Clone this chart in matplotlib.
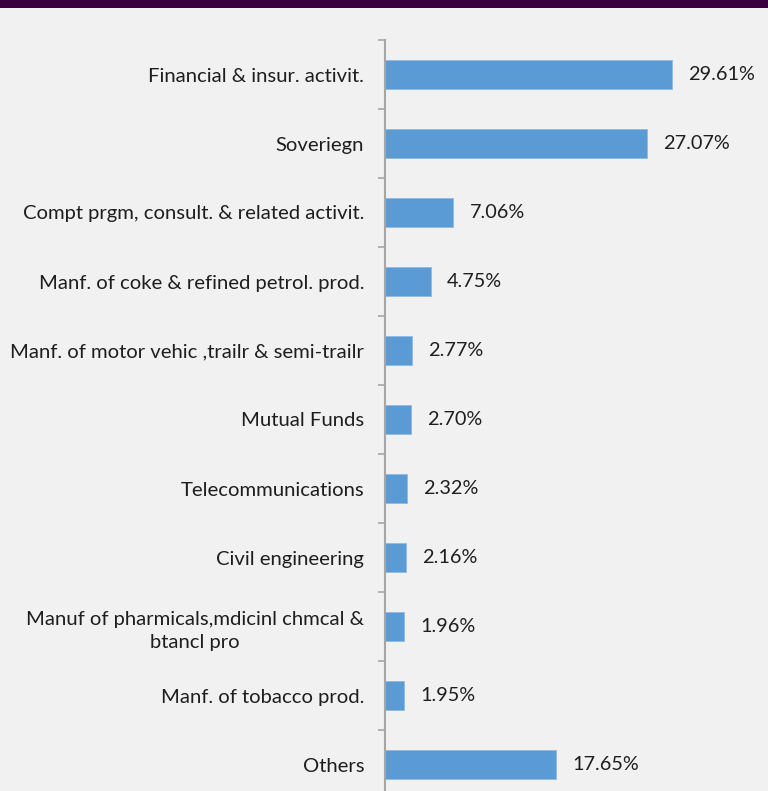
import numpy as np
import matplotlib.pyplot as plt
from matplotlib.patches import Rectangle

# sector shares, top to bottom
sectors = [
    "Financial & insur. activit.",
    "Soveriegn",
    "Compt prgm, consult. & related activit.",
    "Manf. of coke & refined petrol. prod.",
    "Manf. of motor vehic ,trailr & semi-trailr",
    "Mutual Funds",
    "Telecommunications",
    "Civil engineering",
    "Manuf of pharmicals,mdicinl chmcal &\nbtancl pro",
    "Manf. of tobacco prod.",
    "Others",
]
shares = [29.61, 27.07, 7.06, 4.75, 2.77, 2.70, 2.32, 2.16, 1.96, 1.95, 17.65]

bg = "#f1f1f1"
bar_color = "#5b9bd5"
text_color = "#1e1e1e"

plt.rcParams['font.family'] = ['Lato', 'DejaVu Sans']

fig = plt.figure(figsize=(7.68, 7.91), dpi=100, facecolor=bg)

# dark header strip
fig.patches.append(Rectangle((0, 1 - 8 / 791), 1, 8 / 791, transform=fig.transFigure,
                             facecolor="#38003f", edgecolor="none", zorder=5))

ax = fig.add_axes([385 / 768, (791 - 799) / 791, 383 / 768, 759 / 791])
ax.set_facecolor(bg)

y = np.arange(len(sectors))
ax.barh(y, shares, height=0.43, color=bar_color, edgecolor="#8fbbe3", linewidth=0.6)

for yi, v in zip(y, shares):
    ax.annotate(f"{v:.2f}%", (v, yi), xytext=(11.5, 0), textcoords="offset points",
                va="center", ha="left", fontsize=14.3, color=text_color)

ax.set_xlim(0, 39.5)
ax.set_ylim(len(sectors) - 0.5, -0.5)

ax.set_yticks(y)
ax.set_yticklabels(sectors, fontsize=14.6, color=text_color,
                   multialignment="center", linespacing=1.45)
ax.set_yticks(np.arange(len(sectors) + 1) - 0.5, minor=True)
ax.tick_params(axis="y", which="major", length=0, pad=15)
ax.tick_params(axis="y", which="minor", length=5, width=1.2, color="#a6a6a6")
ax.set_xticks([])

for s in ("top", "right", "bottom"):
    ax.spines[s].set_visible(False)
ax.spines["left"].set_color("#a6a6a6")
ax.spines["left"].set_linewidth(1.5)

fig.savefig("out.png", dpi=100, facecolor=bg)
